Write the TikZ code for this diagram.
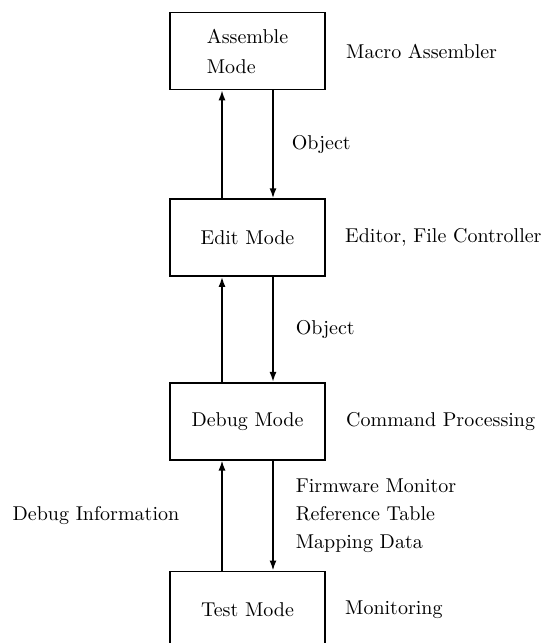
\documentclass[tikz,border=0pt]{standalone}
\usepackage{tikz}
\usetikzlibrary{arrows.meta, positioning}

\begin{document}
\begin{tikzpicture}[
  x=0.5pt, y=-0.5pt,
  modebox/.style={rectangle, draw, line width=0.8pt, minimum width=77.5pt,
    minimum height=38.5pt, inner sep=0pt, align=left},
  note/.style={inner sep=0pt, align=left},
  flow/.style={-{Latex[length=5pt,width=3.5pt]}, line width=0.8pt},
  node distance=54pt,
]
  \useasboundingbox (0,0) rectangle (544,643);
  \clip (0,0) rectangle (544,643);
  \node[modebox] (asm) at (247.5,51) {Assemble\\[3pt]Mode};
  \node[modebox, below=of asm] (edit) {Edit Mode};
  \node[modebox, below=52.5pt of edit] (debug) {Debug Mode};
  \node[modebox, below=55pt of debug] (test) {Test Mode};
  \node[note, right=10pt of asm.east] (asmnote) {Macro Assembler};
  \node[note, right=9.5pt of edit.east] (editnote) {Editor, File Controller};
  \node[note, right=10pt of debug.east] (debugnote) {Command Processing};
  \node[note, right=9.5pt of test.east] (testnote) {Monitoring};
  \draw[flow] ([xshift=-12.75pt]edit.north) -- ([xshift=-12.75pt]asm.south);
  \draw[flow] ([xshift=12.75pt]asm.south) -- ([xshift=12.75pt]edit.north)
    node[note, midway, right=9pt] {Object};
  \draw[flow] ([xshift=-12.75pt]debug.north) -- ([xshift=-12.75pt]edit.south);
  \draw[flow] ([xshift=12.75pt]edit.south) -- ([xshift=12.75pt]debug.north)
    node[note, midway, right=11pt] {Object};
  \draw[flow] ([xshift=-12.75pt]test.north) -- ([xshift=-12.75pt]debug.south)
    node[note, midway, left=21pt] {Debug Information};
  \draw[flow] ([xshift=12.75pt]debug.south) -- ([xshift=12.75pt]test.north)
    node[note, midway, right=11pt] {Firmware Monitor\\[2pt]Reference Table\\[2pt]Mapping Data};
\end{tikzpicture}
\end{document}
